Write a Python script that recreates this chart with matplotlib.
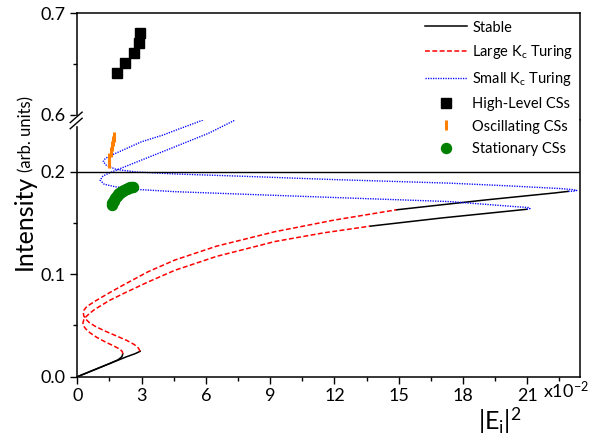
import matplotlib
matplotlib.use('Agg')
import matplotlib.pyplot as plt
from matplotlib.ticker import MultipleLocator, FixedLocator, FormatStrFormatter
from matplotlib.lines import Line2D
from matplotlib.patches import Rectangle

plt.rcParams['font.family'] = ['Lato', 'DejaVu Sans']
plt.rcParams['mathtext.fontset'] = 'custom'
plt.rcParams['mathtext.rm'] = 'Lato'
plt.rcParams['mathtext.it'] = 'Lato:italic'

# |E_i|^2 in units of 1e-2, intensity in arb. units
# outer S-curve
o_stable_lo_x = [0.0, 0.8, 1.6, 2.3, 2.7, 2.93]
o_stable_lo_y = [0.0, 0.0068, 0.0136, 0.0195, 0.0225, 0.0248]
o_large_x = [2.93, 2.85, 2.65, 2.3, 1.8, 1.3, 0.85, 0.55, 0.38, 0.30, 0.28, 0.31,
             0.40, 0.55, 0.83, 1.5, 2.23, 3.3, 4.56, 6.5, 9.22, 12.0, 14.9]
o_large_y = [0.0248, 0.0280, 0.0315, 0.0355, 0.0400, 0.0445, 0.0490, 0.0530, 0.0565,
             0.0595, 0.0625, 0.0650, 0.0675, 0.0700, 0.0738, 0.0820, 0.0905, 0.1025,
             0.1140, 0.1275, 0.1416, 0.1530, 0.1630]
o_stable_hi_x = [14.9, 19.0, 22.3, 22.92]
o_stable_hi_y = [0.163, 0.1725, 0.1795, 0.181]
o_small_x = [22.92, 23.25, 23.31, 23.1, 22.5, 20.0, 17.4, 12.0, 8.06, 4.56, 2.7,
             1.8, 1.35, 1.21, 1.3, 1.5, 2.2, 3.0, 4.0, 4.56, 5.85]
o_small_y = [0.181, 0.1813, 0.182, 0.1828, 0.1838, 0.1865, 0.189, 0.1925, 0.1955,
             0.198, 0.2, 0.2025, 0.2065, 0.21, 0.213, 0.2155, 0.222, 0.2295, 0.236,
             0.2405, 0.2505]

# inner S-curve
i_stable_lo_x = [0.0, 0.8, 1.5, 1.9, 2.08, 2.12]
i_stable_lo_y = [0.0, 0.0068, 0.0128, 0.0165, 0.0195, 0.0222]
i_large_x = [2.12, 2.10, 1.98, 1.70, 1.30, 0.90, 0.58, 0.38, 0.28, 0.26, 0.30, 0.40,
             0.58, 0.83, 1.5, 2.23, 3.3, 4.56, 6.5, 9.22, 11.5, 13.66]
i_large_y = [0.0222, 0.0245, 0.0270, 0.0300, 0.0340, 0.0385, 0.0430, 0.0470, 0.0500,
             0.0525, 0.0555, 0.0585, 0.0620, 0.0660, 0.0745, 0.0820, 0.0925, 0.1040,
             0.1175, 0.1320, 0.1405, 0.1470]
i_stable_hi_x = [13.66, 17.0, 20.98]
i_stable_hi_y = [0.147, 0.155, 0.1635]
i_small_x = [20.98, 21.13, 21.05, 20.5, 17.4, 12.0, 8.06, 4.56, 2.7, 1.76, 1.25,
             1.06, 1.2, 1.45, 1.91, 3.0, 4.56, 6.12, 7.35]
i_small_y = [0.1635, 0.1642, 0.1652, 0.166, 0.171, 0.175, 0.178, 0.1807, 0.183,
             0.1855, 0.188, 0.192, 0.196, 0.1986, 0.2025, 0.2116, 0.2246, 0.2377, 0.2505]

# cavity solitons
high_x = [1.84, 2.23, 2.66, 2.87, 2.93]
high_y = [0.641, 0.651, 0.661, 0.671, 0.681]
osc_x = [1.46, 1.50, 1.56, 1.62, 1.68, 1.72]
osc_y = [0.209, 0.214, 0.219, 0.225, 0.230, 0.234]
stat_x = [1.60, 1.63, 1.66, 1.70, 1.73, 1.77, 1.80, 1.84, 1.88, 1.92, 1.96, 2.01,
          2.05, 2.10, 2.15, 2.20, 2.25, 2.30, 2.36, 2.42, 2.47, 2.53, 2.58]
stat_y = [0.1680, 0.1693, 0.1705, 0.1718, 0.1730, 0.1741, 0.1752, 0.1762, 0.1772,
          0.1781, 0.1790, 0.1798, 0.1805, 0.1812, 0.1818, 0.1824, 0.1830, 0.1835,
          0.1840, 0.1844, 0.1848, 0.1852, 0.1855]

fig = plt.figure(figsize=(5.95, 4.37), dpi=100)
ax_hi = fig.add_axes([0.130, 0.7254, 0.845, 0.2442])
ax = fig.add_axes([0.130, 0.1380, 0.845, 0.5874])

red = '#ff0000'
blue = '#0000ff'
dash = (0, (3.2, 1.6))
dot = (0, (0.9, 0.9))

ax.plot(o_stable_lo_x, o_stable_lo_y, color='black', lw=1.1, label='Stable')
ax.plot(i_stable_lo_x, i_stable_lo_y, color='black', lw=1.1)
ax.plot(o_stable_hi_x, o_stable_hi_y, color='black', lw=1.1)
ax.plot(i_stable_hi_x, i_stable_hi_y, color='black', lw=1.1)
ax.plot(o_large_x, o_large_y, color=red, lw=1.1, ls=dash, label=r'Large K$_\mathrm{c}$ Turing')
ax.plot(i_large_x, i_large_y, color=red, lw=1.1, ls=dash)
ax.plot(o_small_x, o_small_y, color=blue, lw=1.0, ls=dot, label=r'Small K$_\mathrm{c}$ Turing')
ax.plot(i_small_x, i_small_y, color=blue, lw=1.0, ls=dot)
ax.axhline(0.2, color='black', lw=1.0)

ax_hi.plot(high_x, high_y, ls='none', marker='s', ms=6.5, color='black')
ax.plot([], [], ls='none', marker='s', ms=6.5, color='black', label='High-Level CSs')
ax.plot(osc_x, osc_y, ls='none', marker='|', ms=7, mew=2.2, color='#ff8000',
        label='Oscillating CSs')
ax.plot(stat_x, stat_y, ls='none', marker='o', ms=7.2, color='#008000',
        label='Stationary CSs')

ax.set_xlim(0, 23.47)
ax_hi.set_xlim(0, 23.47)
ax.set_ylim(0, 0.2507)
ax_hi.set_ylim(0.595, 0.7)

ax.xaxis.set_major_locator(MultipleLocator(3))
ax.xaxis.set_minor_locator(MultipleLocator(1.5))
ax.yaxis.set_major_locator(FixedLocator([0.0, 0.1, 0.2]))
ax.yaxis.set_minor_locator(FixedLocator([0.05, 0.15]))
ax.yaxis.set_major_formatter(FormatStrFormatter('%.1f'))
ax_hi.yaxis.set_major_locator(FixedLocator([0.6, 0.7]))
ax_hi.yaxis.set_minor_locator(FixedLocator([0.65]))
ax_hi.yaxis.set_major_formatter(FormatStrFormatter('%.1f'))
ax_hi.set_xticks([])

for a in (ax, ax_hi):
    a.tick_params(which='major', direction='out', length=5, width=1.0, labelsize=13,
                  top=False, right=False)
    a.tick_params(which='minor', direction='out', length=3, width=1.0,
                  top=False, right=False)
    for s in a.spines.values():
        s.set_linewidth(1.1)
ax.spines['top'].set_visible(False)
ax_hi.spines['bottom'].set_visible(False)

# break marks on the left spine
xb = 0.130
yb = 0.7254
fig.add_artist(Rectangle((xb - 0.004, yb - 0.012), 0.008, 0.022, transform=fig.transFigure,
                         color='white', zorder=5))
for dy in (-0.008, 0.006):
    fig.add_artist(Line2D([xb - 0.012, xb + 0.008], [yb + dy - 0.012, yb + dy + 0.012],
                          transform=fig.transFigure, color='black', lw=1.0, zorder=6))

fig.text(0.0533, 0.492, 'Intensity', rotation=90, rotation_mode='anchor',
         ha='center', va='baseline', fontsize=18)
fig.text(0.0533, 0.6945, '(arb. units)', rotation=90, rotation_mode='anchor',
         ha='center', va='baseline', fontsize=12)
fig.text(0.840, 0.018, r'|E$_\mathrm{i}$|$^2$', ha='center', va='baseline', fontsize=18)
fig.text(0.9126, 0.089, r'x10$^{\mathrm{-2}}$', ha='left', va='baseline', fontsize=13)

ax.legend(loc='upper left', bbox_to_anchor=(0.714, 0.953), bbox_transform=fig.transFigure,
          frameon=False, fontsize=10.5, handlelength=2.9, handletextpad=0.35,
          labelspacing=0.6, borderpad=0, borderaxespad=0, markerscale=1.0)

fig.savefig('out.png', dpi=100)
